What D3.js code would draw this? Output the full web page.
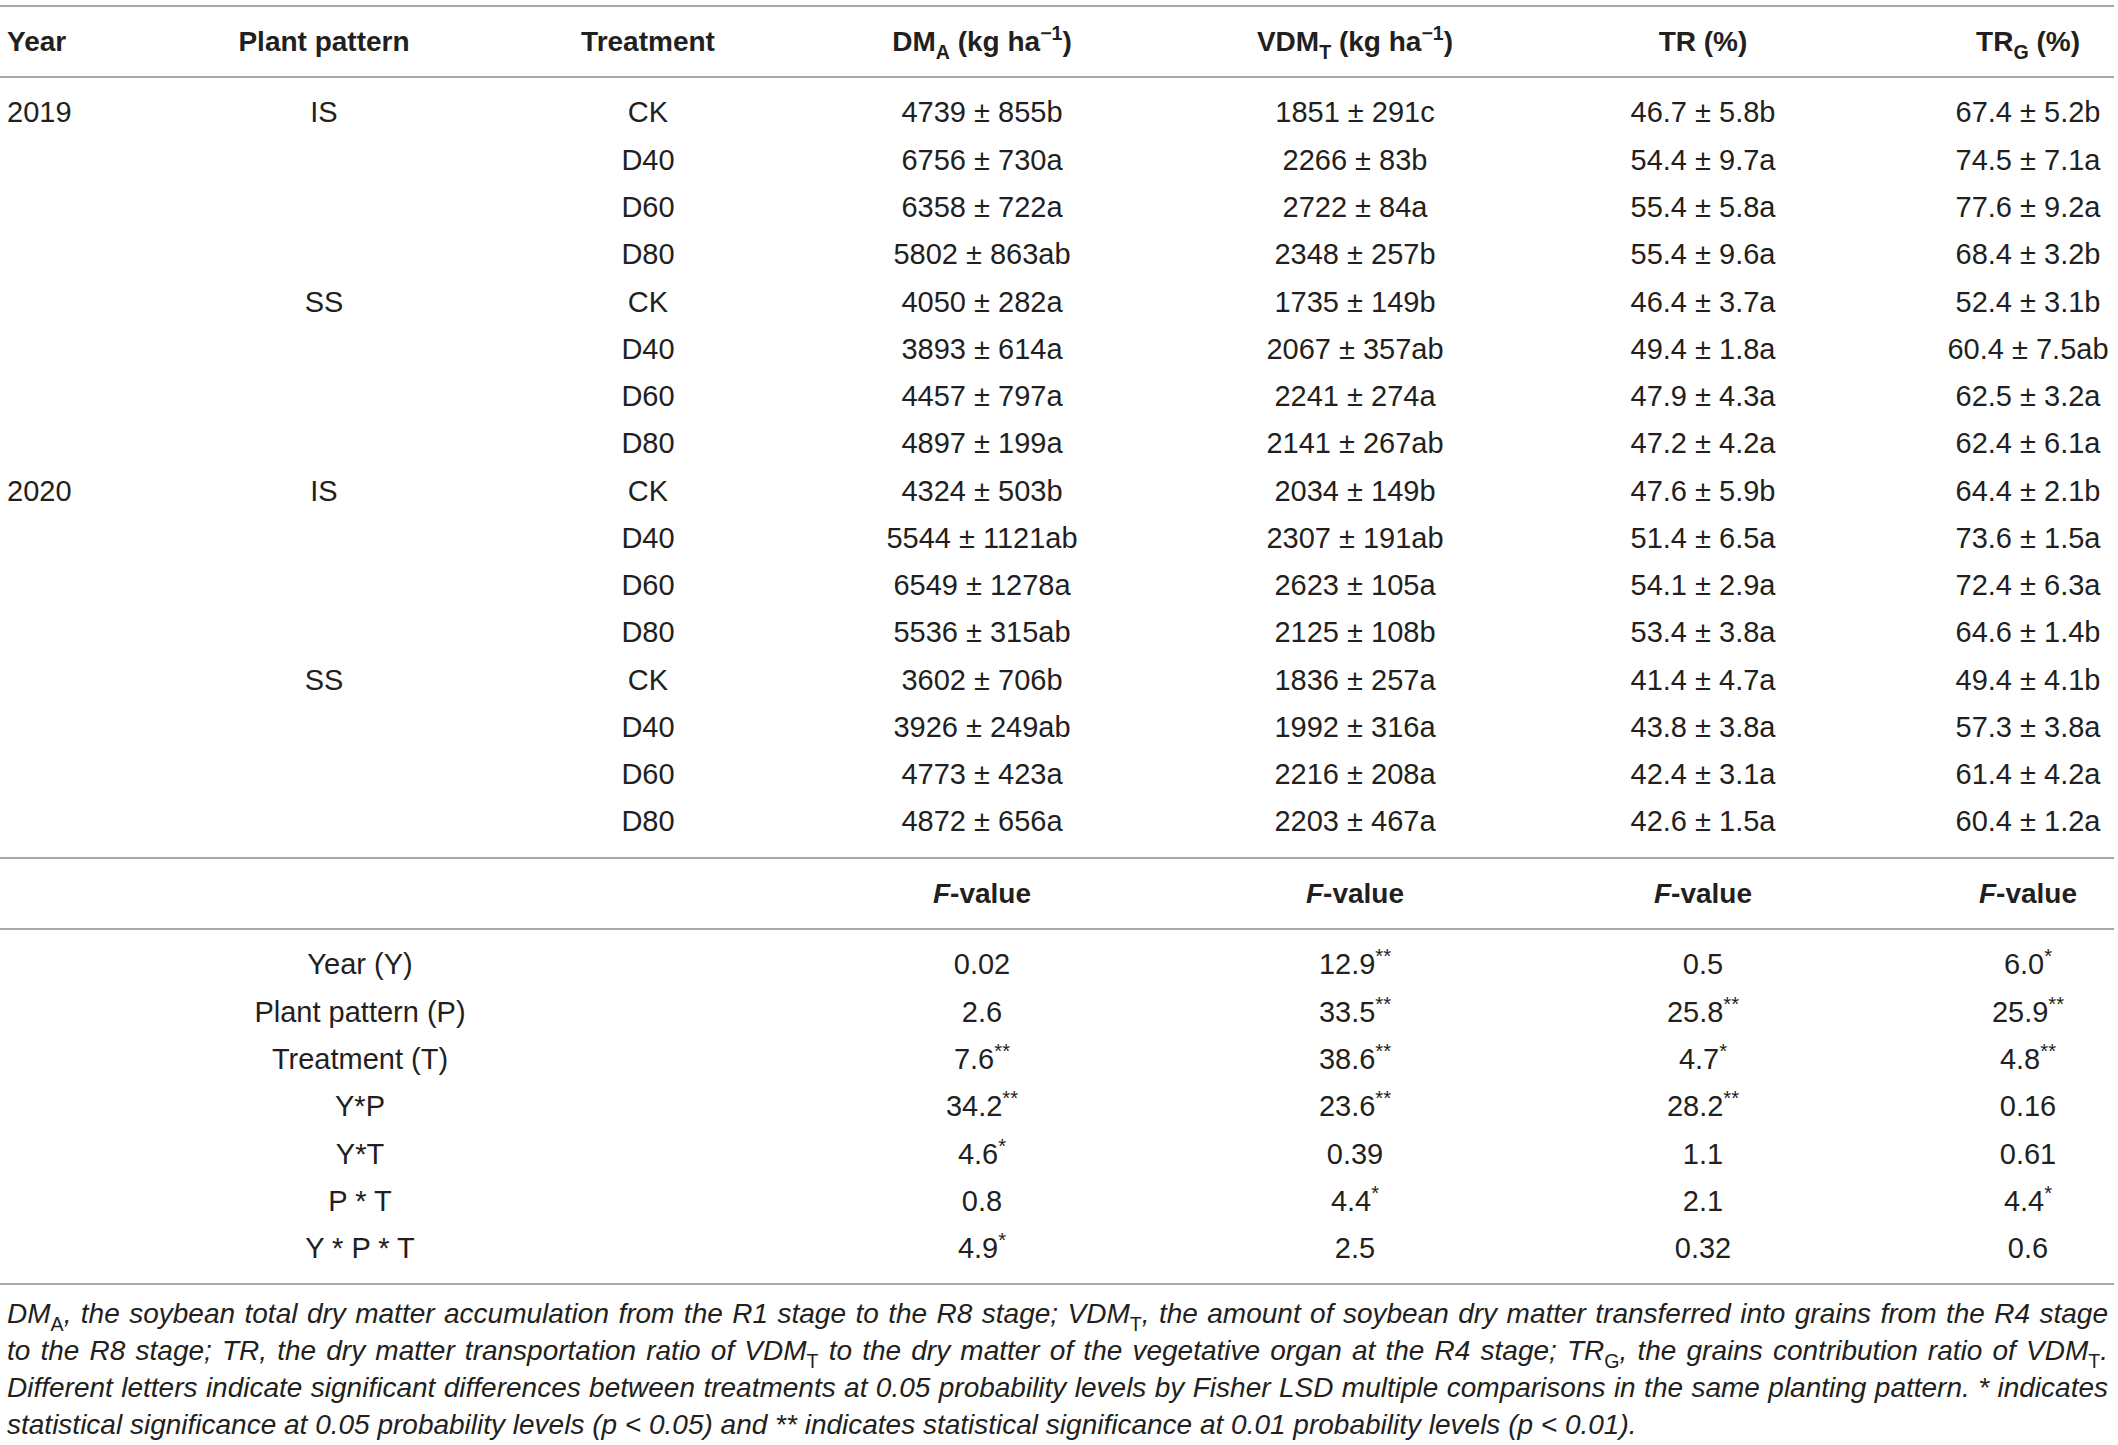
<!DOCTYPE html>
<html>
<head>
<meta charset="utf-8">
<script src="https://cdn.jsdelivr.net/npm/d3@7"></script>
<style>
  body { margin: 0; background: #fff; }
  svg text { font-family: "Liberation Sans", Arial, sans-serif; fill: #231f20; }
</style>
</head>
<body>
<div id="myTable"></div>
<script>
// data rows: year / pattern / treatment
const years = ["2019", "", "", "", "", "", "", "", "2020", "", "", "", "", "", "", ""];
const patterns = ["IS", "", "", "", "SS", "", "", "", "IS", "", "", "", "SS", "", "", ""];
const treatments = ["CK", "D40", "D60", "D80", "CK", "D40", "D60", "D80", "CK", "D40", "D60", "D80", "CK", "D40", "D60", "D80"];

// DMA (kg ha-1)
const dmaMean = [4739, 6756, 6358, 5802, 4050, 3893, 4457, 4897, 4324, 5544, 6549, 5536, 3602, 3926, 4773, 4872];
const dmaSd = [855, 730, 722, 863, 282, 614, 797, 199, 503, 1121, 1278, 315, 706, 249, 423, 656];
const dmaLetter = ["b", "a", "a", "ab", "a", "a", "a", "a", "b", "ab", "a", "ab", "b", "ab", "a", "a"];

// VDMT (kg ha-1)
const vdmMean = [1851, 2266, 2722, 2348, 1735, 2067, 2241, 2141, 2034, 2307, 2623, 2125, 1836, 1992, 2216, 2203];
const vdmSd = [291, 83, 84, 257, 149, 357, 274, 267, 149, 191, 105, 108, 257, 316, 208, 467];
const vdmLetter = ["c", "b", "a", "b", "b", "ab", "a", "ab", "b", "ab", "a", "b", "a", "a", "a", "a"];

// TR (%)
const trMean = [46.7, 54.4, 55.4, 55.4, 46.4, 49.4, 47.9, 47.2, 47.6, 51.4, 54.1, 53.4, 41.4, 43.8, 42.4, 42.6];
const trSd = [5.8, 9.7, 5.8, 9.6, 3.7, 1.8, 4.3, 4.2, 5.9, 6.5, 2.9, 3.8, 4.7, 3.8, 3.1, 1.5];
const trLetter = ["b", "a", "a", "a", "a", "a", "a", "a", "b", "a", "a", "a", "a", "a", "a", "a"];

// TRG (%)
const trgMean = [67.4, 74.5, 77.6, 68.4, 52.4, 60.4, 62.5, 62.4, 64.4, 73.6, 72.4, 64.6, 49.4, 57.3, 61.4, 60.4];
const trgSd = [5.2, 7.1, 9.2, 3.2, 3.1, 7.5, 3.2, 6.1, 2.1, 1.5, 6.3, 1.4, 4.1, 3.8, 4.2, 1.2];
const trgLetter = ["b", "a", "a", "b", "b", "ab", "a", "a", "b", "a", "a", "b", "b", "a", "a", "a"];

// ANOVA F-values
const effects = ["Year (Y)", "Plant pattern (P)", "Treatment (T)", "Y*P", "Y*T", "P * T", "Y * P * T"];
const fDma = ["0.02", "2.6", "7.6", "34.2", "4.6", "0.8", "4.9"];
const sigDma = ["", "", "**", "**", "*", "", "*"];
const fVdm = ["12.9", "33.5", "38.6", "23.6", "0.39", "4.4", "2.5"];
const sigVdm = ["**", "**", "**", "**", "", "*", ""];
const fTr = ["0.5", "25.8", "4.7", "28.2", "1.1", "2.1", "0.32"];
const sigTr = ["", "**", "*", "**", "", "", ""];
const fTrg = ["6.0", "25.9", "4.8", "0.16", "0.61", "4.4", "0.6"];
const sigTrg = ["*", "**", "**", "", "", "*", ""];

const width = 2118,
  height = 1445,
  fs = 28,
  bodyFs = 29;

const svg = d3
  .select("#myTable")
  .append("svg")
  .attr("width", width)
  .attr("height", height);

// column and row positions
const colX = d3
  .scaleOrdinal()
  .domain(["plant", "treat", "dma", "vdm", "tr", "trg"])
  .range([324, 648, 982, 1355, 1703, 2028]);
const rowY = d3.scaleLinear().domain([0, 15]).range([112, 821]);
const fRowY = d3.scaleLinear().domain([0, 6]).range([964, 1248]);

// horizontal rules
svg
  .selectAll(".rule")
  .data([6, 77, 858, 929, 1284])
  .enter()
  .append("line")
  .attr("class", "rule")
  .attr("x1", 0)
  .attr("x2", 2114)
  .attr("y1", (d) => d)
  .attr("y2", (d) => d)
  .attr("stroke", "#a8a8a8")
  .attr("stroke-width", 2);

// write text made of parts, with sub / sup pieces
function rich(sel, parts, size) {
  let shift = 0;
  parts.forEach((p) => {
    const t = sel.append("tspan").text(p.t);
    let target = 0;
    if (p.sub) target = size * 0.28;
    if (p.sup) target = -size * 0.38;
    if (p.sub || p.sup) t.style("font-size", size * 0.7 + "px");
    if (p.it) t.style("font-style", "italic");
    if (p.up) t.style("font-style", "normal");
    if (target !== shift) t.attr("dy", target - shift);
    shift = target;
  });
}

function cell(x, y, anchor, parts, weight, size) {
  const t = svg
    .append("text")
    .attr("x", x)
    .attr("y", y)
    .attr("dy", "0.36em")
    .attr("text-anchor", anchor)
    .style("font-size", size + "px")
    .style("font-weight", weight || "normal");
  rich(t, parts, size);
  return t;
}

// header row
const headY = 41;
cell(7, headY, "start", [{ t: "Year" }], "bold", fs);
cell(colX("plant"), headY, "middle", [{ t: "Plant pattern" }], "bold", fs);
cell(colX("treat"), headY, "middle", [{ t: "Treatment" }], "bold", fs);
cell(colX("dma"), headY, "middle",
  [{ t: "DM" }, { t: "A", sub: true }, { t: " (kg ha" }, { t: "−1", sup: true }, { t: ")" }], "bold", fs);
cell(colX("vdm"), headY, "middle",
  [{ t: "VDM" }, { t: "T", sub: true }, { t: " (kg ha" }, { t: "−1", sup: true }, { t: ")" }], "bold", fs);
cell(colX("tr"), headY, "middle", [{ t: "TR (%)" }], "bold", fs);
cell(colX("trg"), headY, "middle", [{ t: "TR" }, { t: "G", sub: true }, { t: " (%)" }], "bold", fs);

// body rows
const pm = (m, s, l, dec) => m.toFixed(dec) + " ± " + s.toFixed(dec) + l;
d3.range(treatments.length).forEach((i) => {
  const y = rowY(i);
  if (years[i]) cell(7, y, "start", [{ t: years[i] }], "normal", bodyFs);
  if (patterns[i]) cell(colX("plant"), y, "middle", [{ t: patterns[i] }], "normal", bodyFs);
  cell(colX("treat"), y, "middle", [{ t: treatments[i] }], "normal", bodyFs);
  cell(colX("dma"), y, "middle", [{ t: pm(dmaMean[i], dmaSd[i], dmaLetter[i], 0) }], "normal", bodyFs);
  cell(colX("vdm"), y, "middle", [{ t: pm(vdmMean[i], vdmSd[i], vdmLetter[i], 0) }], "normal", bodyFs);
  cell(colX("tr"), y, "middle", [{ t: pm(trMean[i], trSd[i], trLetter[i], 1) }], "normal", bodyFs);
  cell(colX("trg"), y, "middle", [{ t: pm(trgMean[i], trgSd[i], trgLetter[i], 1) }], "normal", bodyFs);
});

// F-value header
["dma", "vdm", "tr", "trg"].forEach((c) => {
  cell(colX(c), 893, "middle", [{ t: "F", it: true }, { t: "-value" }], "bold", fs);
});

// F-value rows
const fCols = [
  ["dma", fDma, sigDma],
  ["vdm", fVdm, sigVdm],
  ["tr", fTr, sigTr],
  ["trg", fTrg, sigTrg],
];
effects.forEach((e, i) => {
  const y = fRowY(i);
  cell(360, y, "middle", [{ t: e }], "normal", bodyFs);
  fCols.forEach(([c, v, s]) => {
    const parts = [{ t: v[i] }];
    if (s[i]) parts.push({ t: s[i], sup: true });
    cell(colX(c), y, "middle", parts, "normal", bodyFs);
  });
});

// footnote, justified lines
const noteSize = 28;
const noteLines = [
  [{ t: "DM" }, { t: "A", sub: true, up: true }, { t: ", the soybean total dry matter accumulation from the R1 stage to the R8 stage; VDM" },
   { t: "T", sub: true, up: true }, { t: ", the amount of soybean dry matter transferred into grains from the R4 stage" }],
  [{ t: "to the R8 stage; TR, the dry matter transportation ratio of VDM" }, { t: "T", sub: true, up: true },
   { t: " to the dry matter of the vegetative organ at the R4 stage; TR" }, { t: "G", sub: true, up: true },
   { t: ", the grains contribution ratio of VDM" }, { t: "T", sub: true, up: true }, { t: "." }],
  [{ t: "Different letters indicate significant differences between treatments at 0.05 probability levels by Fisher LSD multiple comparisons in the same planting pattern. * indicates" }],
  [{ t: "statistical significance at 0.05 probability levels (p < 0.05) and ** indicates statistical significance at 0.01 probability levels (p < 0.01)." }],
];
const noteY = [1313, 1350, 1387, 1424];
noteLines.forEach((parts, i) => {
  const t = cell(7, noteY[i], "start", parts, "normal", noteSize).style("font-style", "italic");
  if (i < 3) {
    // stretch the word gaps so the line fills the width
    const natural = t.node().getComputedTextLength();
    const gaps = parts.map((p) => p.t).join("").split(" ").length - 1;
    t.style("word-spacing", (2108 - 7 - natural) / gaps + "px");
  }
});
</script>
</body>
</html>
